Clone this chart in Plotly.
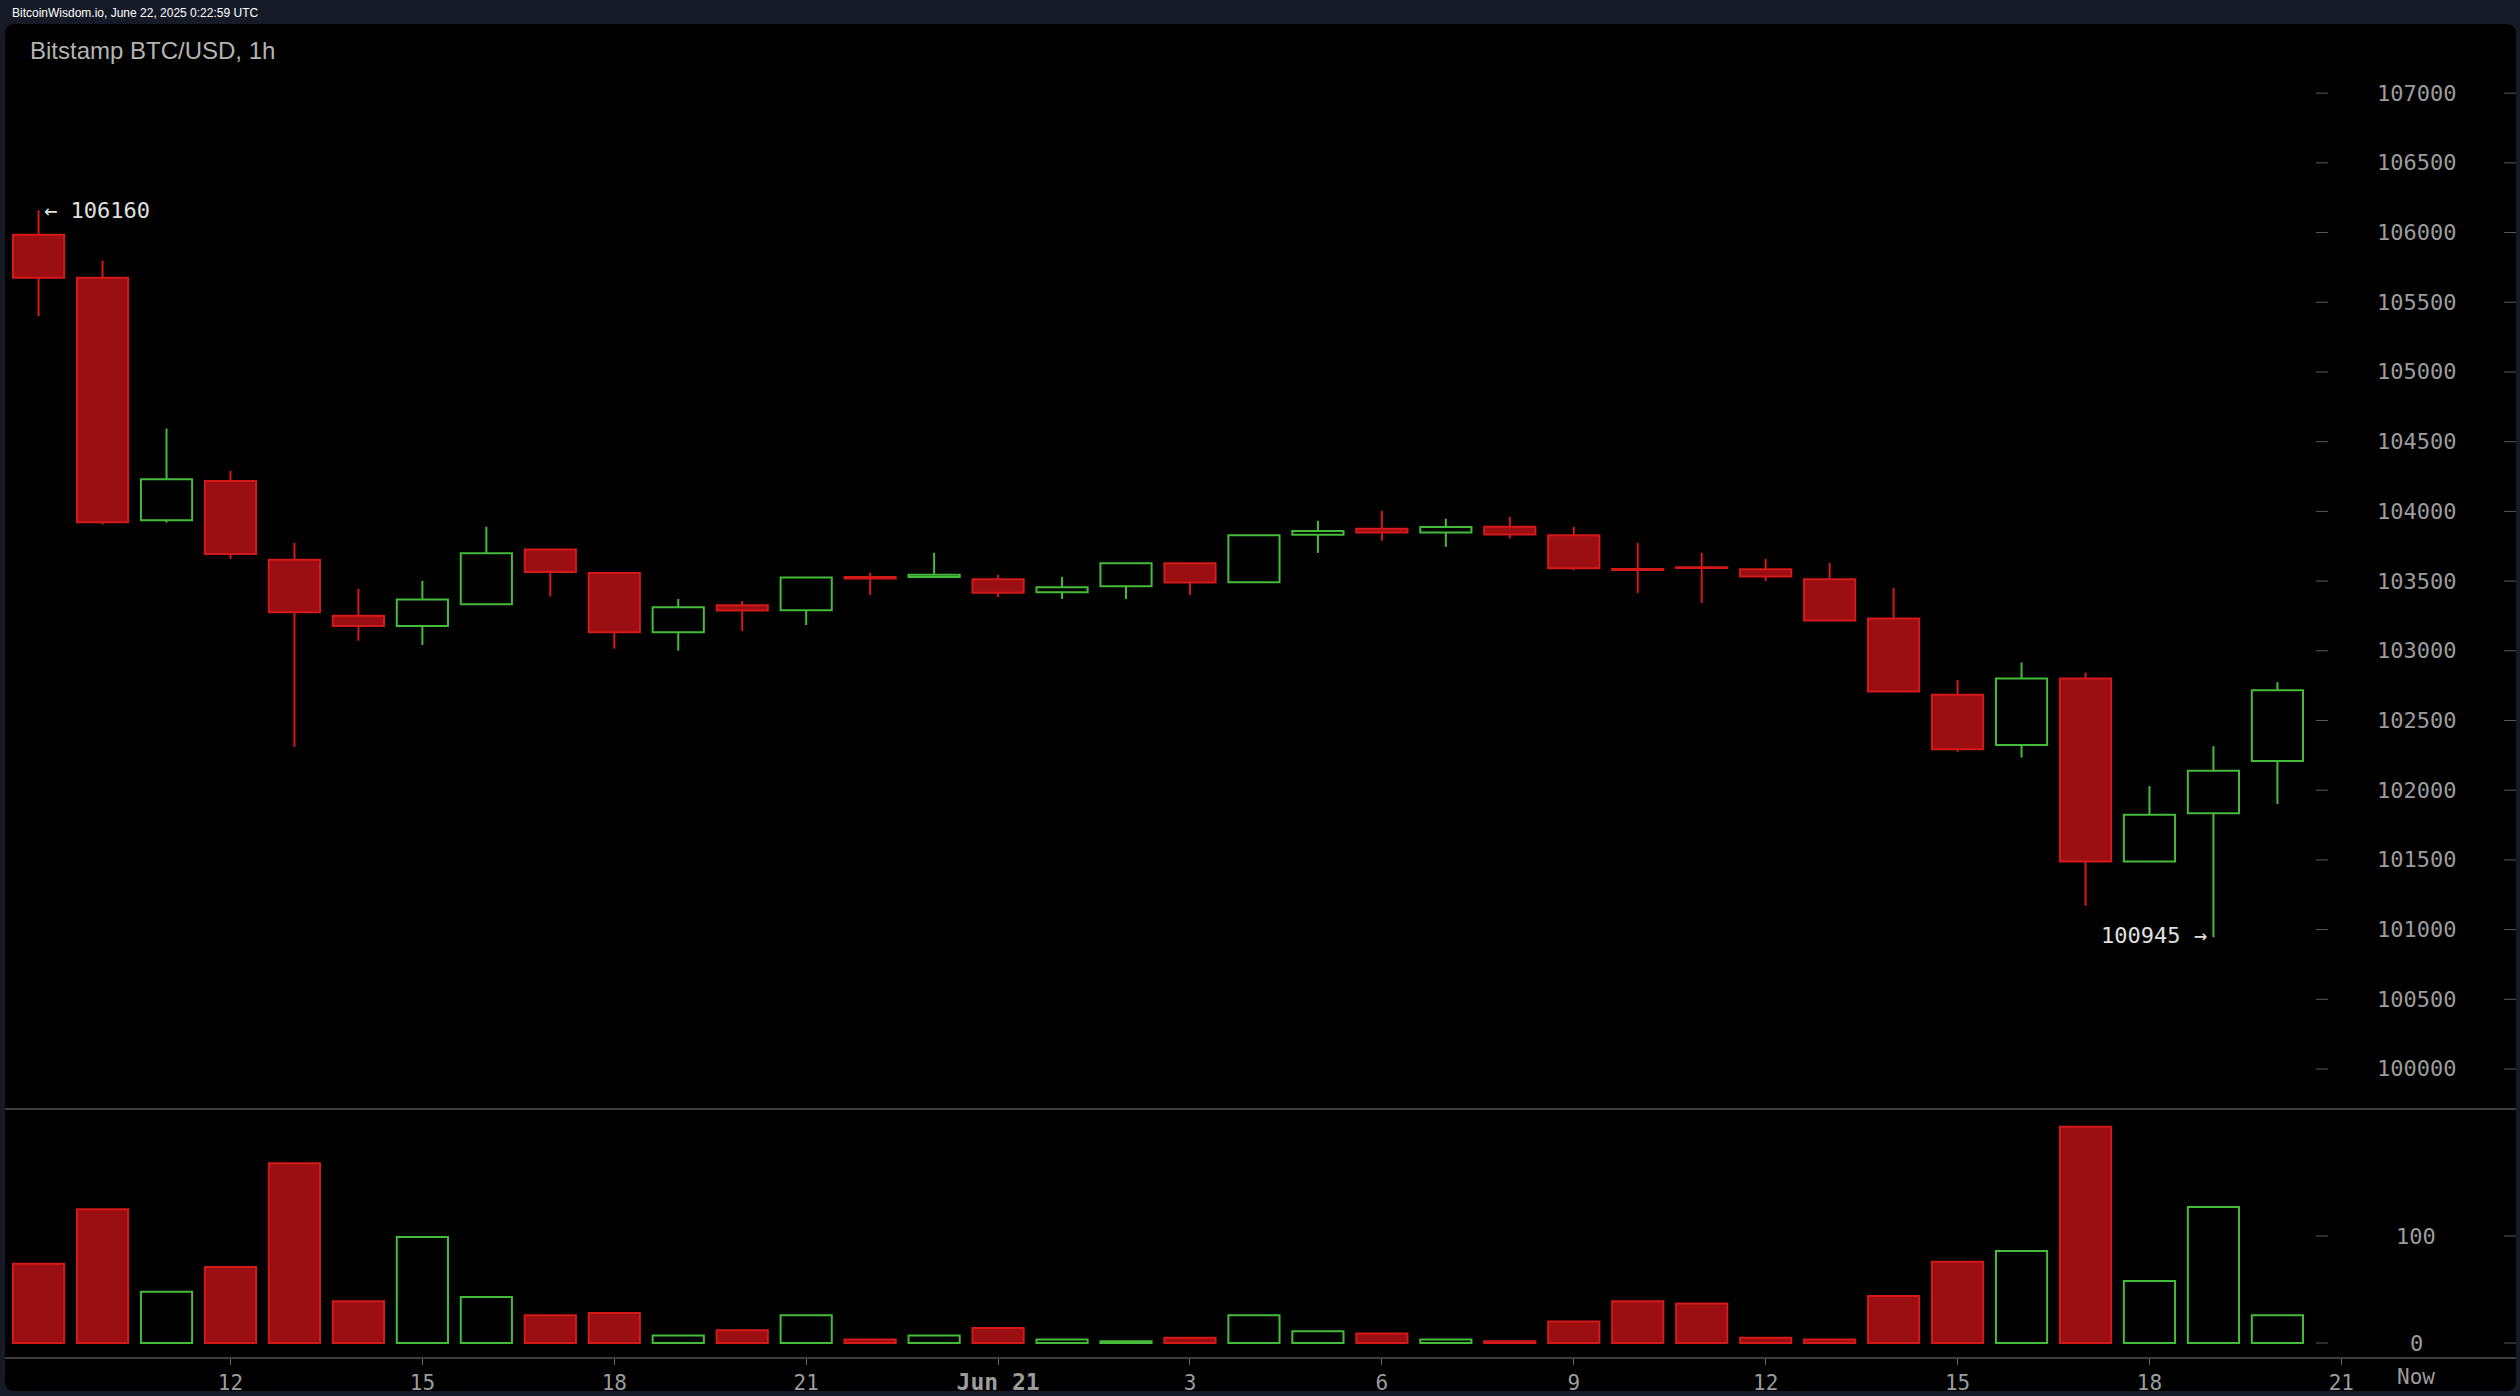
import plotly.graph_objects as go

W, H = 2520, 1396

# ---------------- data (Bitstamp BTC/USD, 1h candles, Jun 20 09:00 -> Jun 21 20:00 UTC)
hours = ["06-20 09", "06-20 10", "06-20 11", "06-20 12", "06-20 13", "06-20 14",
         "06-20 15", "06-20 16", "06-20 17", "06-20 18", "06-20 19", "06-20 20",
         "06-20 21", "06-20 22", "06-20 23", "06-21 00", "06-21 01", "06-21 02",
         "06-21 03", "06-21 04", "06-21 05", "06-21 06", "06-21 07", "06-21 08",
         "06-21 09", "06-21 10", "06-21 11", "06-21 12", "06-21 13", "06-21 14",
         "06-21 15", "06-21 16", "06-21 17", "06-21 18", "06-21 19", "06-21 20"]
opens = [105985, 105675, 103936, 104217, 103653, 103251, 103177, 103334, 103727, 103557,
         103133, 103326, 103290, 103530, 103530, 103513, 103420, 103463, 103628, 103492,
         103832, 103875, 103848, 103889, 103829, 103586, 103599, 103585, 103513, 103231,
         102685, 102324, 102801, 101489, 101835, 102209]
highs = [106160, 105798, 104594, 104291, 103774, 103444, 103501, 103889, 103727, 103557,
         103372, 103357, 103525, 103559, 103702, 103544, 103530, 103628, 103628, 103829,
         103932, 104004, 103947, 103961, 103889, 103774, 103702, 103659, 103630, 103451,
         102790, 102916, 102844, 102029, 102316, 102775]
lows = [105399, 103906, 103920, 103658, 102310, 103072, 103042, 103334, 103389, 103015,
        103001, 103142, 103185, 103401, 103530, 103386, 103372, 103372, 103401, 103492,
        103702, 103789, 103745, 103805, 103578, 103415, 103343, 103501, 103218, 102708,
        102275, 102234, 101171, 101489, 100945, 101901]
closes = [105675, 103922, 104230, 103694, 103276, 103177, 103367, 103700, 103565, 103133,
          103312, 103288, 103525, 103518, 103545, 103417, 103456, 103628, 103489, 103829,
          103860, 103848, 103887, 103834, 103592, 103580, 103594, 103532, 103218, 102708,
          102293, 102801, 101489, 101824, 102140, 102716]
volumes = [74, 125, 48, 71, 168, 39, 99, 43, 26, 28,
           7, 12, 26, 3.4, 7, 14, 3.4, 1.6, 5, 26,
           11, 9, 3.4, 1.6, 20, 39, 37, 5, 3.4, 44,
           76, 86, 202, 58, 127, 26]

price_ticks = [100000, 100500, 101000, 101500, 102000, 102500, 103000, 103500,
               104000, 104500, 105000, 105500, 106000, 106500, 107000]
vol_ticks = [0, 100]
x_tick_pos = [3, 6, 9, 12, 15, 18, 21, 24, 27, 30, 33, 36]
x_tick_text = ["12", "15", "18", "21", "<b><span style='font-size:23px'>Jun 21</span></b>",
               "3", "6", "9", "12", "15", "18", "21"]

# ---------------- style
RED_LINE = "#d4191a"
RED_FILL = "#9b0f12"
GREEN = "#45bb3a"
NAVY = "#151a26"
MONO = "DejaVu Sans Mono"

x_idx = list(range(len(hours)))
up = [c >= o for o, c in zip(opens, closes)]


def px_x(p):
    return p / W


def px_y(p):
    return 1 - p / H


fig = go.Figure()

# wicks
for is_up, col in [(False, RED_LINE), (True, GREEN)]:
    wx, wy = [], []
    for i in x_idx:
        if up[i] != is_up:
            continue
        top = max(opens[i], closes[i])
        bot = min(opens[i], closes[i])
        wx += [i, i, None, i, i, None]
        wy += [highs[i], top, None, bot, lows[i], None]
    fig.add_trace(go.Scatter(x=wx, y=wy, mode="lines", line=dict(color=col, width=2),
                             hoverinfo="skip", showlegend=False, xaxis="x", yaxis="y"))

# bodies
for is_up, fill, col in [(False, RED_FILL, RED_LINE), (True, "rgba(0,0,0,0)", GREEN)]:
    bx = [i for i in x_idx if up[i] == is_up]
    base = [min(opens[i], closes[i]) for i in bx]
    hgt = [max(abs(closes[i] - opens[i]), 2) for i in bx]
    fig.add_trace(go.Bar(x=bx, y=hgt, base=base, width=0.8,
                         marker=dict(color=fill, line=dict(color=col, width=2)),
                         hoverinfo="skip", showlegend=False, xaxis="x", yaxis="y"))

# volume
for is_up, fill, col in [(False, RED_FILL, RED_LINE), (True, "rgba(0,0,0,0)", GREEN)]:
    bx = [i for i in x_idx if up[i] == is_up]
    fig.add_trace(go.Bar(x=bx, y=[volumes[i] for i in bx], width=0.8,
                         marker=dict(color=fill, line=dict(color=col, width=2)),
                         hoverinfo="skip", showlegend=False, xaxis="x2", yaxis="y2"))

# ---------------- panel shapes
L, R, T, B, rad = 5, 2516, 24, 1391, 10
path = (f"M {px_x(L + rad)} {px_y(T)} L {px_x(R - rad)} {px_y(T)} "
        f"Q {px_x(R)} {px_y(T)} {px_x(R)} {px_y(T + rad)} "
        f"L {px_x(R)} {px_y(B - rad)} Q {px_x(R)} {px_y(B)} {px_x(R - rad)} {px_y(B)} "
        f"L {px_x(L + rad)} {px_y(B)} Q {px_x(L)} {px_y(B)} {px_x(L)} {px_y(B - rad)} "
        f"L {px_x(L)} {px_y(T + rad)} Q {px_x(L)} {px_y(T)} {px_x(L + rad)} {px_y(T)} Z")
shapes = [dict(type="path", xref="paper", yref="paper", path=path,
               fillcolor="#000000", line=dict(width=0), layer="below")]
for yy in (1109, 1358):
    shapes.append(dict(type="line", xref="paper", yref="paper", x0=px_x(L), x1=px_x(R),
                       y0=px_y(yy), y1=px_y(yy), line=dict(color="#3c3c3c", width=2)))

annotations = []
for ref, ticks in (("y", price_ticks), ("y2", vol_ticks)):
    for t in ticks:
        for x0, x1 in ((2316, 2328), (2504, 2516)):
            shapes.append(dict(type="line", xref="paper", yref=ref, x0=px_x(x0), x1=px_x(x1),
                               y0=t, y1=t, line=dict(color="#5a5a5a", width=1)))
        annotations.append(dict(x=px_x(2416), y=t, xref="paper", yref=ref, text=str(t),
                                showarrow=False, xanchor="center", yanchor="middle",
                                font=dict(family=MONO, size=22, color="#9c9c9c")))

annotations += [
    dict(x=px_x(10), y=px_y(13), xref="paper", yref="paper",
         text="BitcoinWisdom.io, June 22, 2025 0:22:59 UTC", showarrow=False,
         xanchor="left", yanchor="middle",
         font=dict(family="Liberation Sans", size=12, color="#ffffff")),
    dict(x=px_x(28), y=px_y(51), xref="paper", yref="paper",
         text="Bitstamp BTC/USD, 1h", showarrow=False, xanchor="left", yanchor="middle",
         font=dict(family="Liberation Sans", size=24, color="#b3b3b3")),
    dict(x=px_x(2416), y=px_y(1377), xref="paper", yref="paper", text="Now",
         showarrow=False, xanchor="center", yanchor="middle",
         font=dict(family=MONO, size=21, color="#9c9c9c")),
    dict(x=x_idx[0] + 0.05, y=highs[0], xref="x", yref="y", text="← " + str(highs[0]),
         showarrow=False, xanchor="left", yanchor="middle",
         font=dict(family=MONO, size=22, color="#e0e0e0")),
    dict(x=x_idx[34] - 0.07, y=lows[34], xref="x", yref="y", text=str(lows[34]) + " →",
         showarrow=False, xanchor="right", yanchor="middle", yshift=2,
         font=dict(family=MONO, size=22, color="#e0e0e0")),
]

xdom = [px_x(L), px_x(R)]
xr = [-0.525, 38.73]
fig.update_layout(
    width=W, height=H, margin=dict(l=0, r=0, t=0, b=0),
    paper_bgcolor=NAVY, plot_bgcolor="rgba(0,0,0,0)",
    barmode="overlay", showlegend=False, hovermode=False,
    shapes=shapes, annotations=annotations,
    xaxis=dict(domain=xdom, range=xr, anchor="y", showticklabels=False, showgrid=False,
               zeroline=False, showline=False, ticks=""),
    yaxis=dict(domain=[px_y(1109), px_y(T)], range=[99713, 107496], showticklabels=False,
               showgrid=False, zeroline=False, showline=False, ticks=""),
    xaxis2=dict(domain=xdom, range=xr, anchor="y2", matches="x", showgrid=False,
                zeroline=False, showline=False, tickmode="array", tickvals=x_tick_pos,
                ticktext=x_tick_text, ticks="outside", ticklen=6, tickwidth=1,
                tickcolor="#666666", tickfont=dict(family=MONO, size=21, color="#9c9c9c")),
    yaxis2=dict(domain=[px_y(1358), px_y(1109)], range=[-14, 218.7], showticklabels=False,
                showgrid=False, zeroline=False, showline=False, ticks=""),
)

fig.write_html(
    "out.html",
    config={"displayModeBar": False},
    post_script=("document.body.style.margin='0';document.body.style.padding='0';"
                 "document.body.style.background='#151a26';"
                 "document.body.style.overflow='hidden';"),
)
